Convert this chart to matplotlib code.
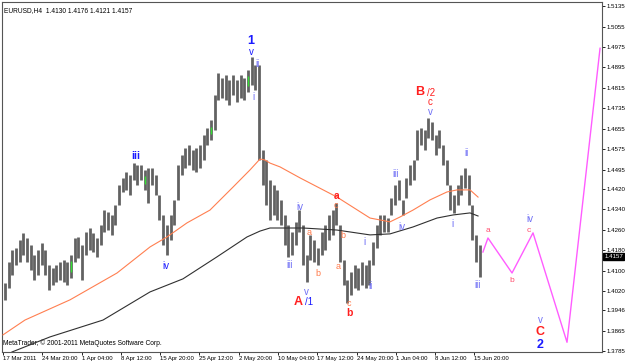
#!/usr/bin/env python3
"""
Redraw a MetaTrader EURUSD H4 chart with an Elliott wave count
"""

import matplotlib
matplotlib.use('Agg')
import matplotlib.pyplot as plt
import matplotlib.transforms as mtransforms
import numpy as np

# price range of the H4 bars in groups of 3 bars
highs = [1.4052, 1.4134, 1.4181, 1.4189, 1.4220, 1.4248, 1.4228, 1.4201, 1.4161, 1.4181,
         1.4208, 1.4181, 1.4122, 1.4111, 1.4122, 1.4134, 1.4142, 1.4134, 1.4161, 1.4228,
         1.4232, 1.4201, 1.4251, 1.4267, 1.4248, 1.4228, 1.4279, 1.4337, 1.4330, 1.4318,
         1.4357, 1.4435, 1.4463, 1.4486, 1.4474, 1.4521, 1.4513, 1.4513, 1.4494, 1.4502,
         1.4502, 1.4474, 1.4396, 1.4318, 1.4279, 1.4318, 1.4377, 1.4513, 1.4553, 1.4580,
         1.4592, 1.4572, 1.4580, 1.4592, 1.4631, 1.4658, 1.4689, 1.4787, 1.4873, 1.4854,
         1.4865, 1.4846, 1.4865, 1.4846, 1.4865, 1.4854, 1.4885, 1.4936, 1.4904, 1.4904,
         1.4572, 1.4533, 1.4455, 1.4435, 1.4416, 1.4377, 1.4318, 1.4279, 1.4251, 1.4291,
         1.4337, 1.4279, 1.4161, 1.4240, 1.4220, 1.4189, 1.4251, 1.4279, 1.4318, 1.4337,
         1.4365, 1.4279, 1.4142, 1.4064, 1.4095, 1.4122, 1.4111, 1.4134, 1.4122, 1.4142,
         1.4212, 1.4279, 1.4318, 1.4318, 1.4306, 1.4384, 1.4435, 1.4455, 1.4377, 1.4463,
         1.4513, 1.4533, 1.4650, 1.4658, 1.4650, 1.4697, 1.4682, 1.4631, 1.4650, 1.4592,
         1.4533, 1.4435, 1.4396, 1.4435, 1.4474, 1.4502, 1.4474, 1.4357, 1.4240, 1.4201]
lows = [1.3986, 1.4032, 1.4083, 1.4122, 1.4134, 1.4161, 1.4134, 1.4103, 1.4064, 1.4083,
        1.4122, 1.4083, 1.4025, 1.4044, 1.4056, 1.4064, 1.4056, 1.4044, 1.4071, 1.4134,
        1.4150, 1.4064, 1.4161, 1.4181, 1.4173, 1.4154, 1.4201, 1.4251, 1.4259, 1.4240,
        1.4279, 1.4357, 1.4408, 1.4416, 1.4396, 1.4455, 1.4435, 1.4455, 1.4416, 1.4365,
        1.4435, 1.4396, 1.4298, 1.4201, 1.4161, 1.4220, 1.4279, 1.4377, 1.4474, 1.4502,
        1.4513, 1.4494, 1.4486, 1.4502, 1.4533, 1.4592, 1.4611, 1.4650, 1.4768, 1.4775,
        1.4768, 1.4748, 1.4787, 1.4760, 1.4775, 1.4768, 1.4799, 1.4826, 1.4807, 1.4533,
        1.4435, 1.4357, 1.4298, 1.4318, 1.4298, 1.4279, 1.4201, 1.4154, 1.4161, 1.4201,
        1.4251, 1.4122, 1.4056, 1.4142, 1.4134, 1.4122, 1.4161, 1.4181, 1.4220, 1.4240,
        1.4279, 1.4134, 1.4044, 1.3975, 1.4005, 1.4032, 1.4025, 1.4044, 1.4032, 1.4044,
        1.4122, 1.4189, 1.4240, 1.4251, 1.4251, 1.4318, 1.4357, 1.4377, 1.4318, 1.4384,
        1.4435, 1.4455, 1.4533, 1.4592, 1.4572, 1.4619, 1.4611, 1.4553, 1.4580, 1.4513,
        1.4435, 1.4337, 1.4326, 1.4357, 1.4396, 1.4423, 1.4357, 1.4220, 1.4134, 1.4075]
green_groups = [18, 38, 56, 66]

# moving averages (bar index, price)
ma_fast_bar = [0, 17.9, 54.6, 92.9, 119.8, 133.6, 149.9, 168.6, 187.4, 201.2, 209.4, 213.4,
               217.5, 225.7, 242.0, 272.1, 299.0, 315.3, 323.4, 334.0, 347.9, 361.7, 369.9,
               380.5, 387.0]
ma_fast_val = [1.3849, 1.3907, 1.3986, 1.4091, 1.4193, 1.4232, 1.4287, 1.4337, 1.4427, 1.4494,
               1.4537, 1.4533, 1.4521, 1.4506, 1.4463, 1.4388, 1.4306, 1.4291, 1.4310, 1.4337,
               1.4377, 1.4408, 1.4416, 1.4416, 1.4388]
ma_slow_bar = [7.3, 38.3, 81.5, 119.8, 146.6, 174.3, 198.8, 209.4, 217.5, 244.4, 272.1, 299.0,
               315.3, 334.0, 353.6, 366.6, 380.5, 387.0]
ma_slow_val = [1.3782, 1.3841, 1.3907, 1.4017, 1.4068, 1.4154, 1.4232, 1.4255, 1.4267, 1.4267,
               1.4259, 1.4240, 1.4244, 1.4271, 1.4306, 1.4318, 1.4326, 1.4314]

# projected wave path
proj_bar = [391.0, 395.1, 414.7, 431.8, 459.5, 486.4]
proj_val = [1.4173, 1.4228, 1.4091, 1.4248, 1.3820, 1.4970]

price_ticks = ['1.5135', '1.5055', '1.4975', '1.4895', '1.4815', '1.4735', '1.4655', '1.4575',
               '1.4495', '1.4420', '1.4340', '1.4260', '1.4180', '1.4100', '1.4020', '1.3946',
               '1.3865', '1.3785']
date_ticks = ['17 Mar 2011', '24 Mar 20:00', '1 Apr 04:00', '8 Apr 12:00', '15 Apr 20:00',
              '25 Apr 12:00', '2 May 20:00', '10 May 04:00', '17 May 12:00', '24 May 20:00',
              '1 Jun 04:00', '8 Jun 12:00', '15 Jun 20:00']
last_price = 1.4157
header = 'EURUSD,H4  1.4130 1.4176 1.4121 1.4157'
footer = 'MetaTrader, \u00a9 2001-2011 MetaQuotes Software Corp.'

# wave labels
wave_text = ['1', 'v', 'ii', 'i', 'iii', 'iv', 'iv', 'iii', 'v', 'A', '/1', 'a', 'b', 'a', 'c',
             'b', 'a', 'c', 'b', 'i', 'ii', 'iii', 'iv', 'B', '/2', 'c', 'v', 'ii', 'i', 'iii',
             'a', 'b', 'c', 'iv', 'v', 'C', '2']
wave_bar = [202, 202, 207.7, 203.7, 108.4, 132.8, 242, 233.8, 246.8, 240.3, 249.3, 249.3, 256.6,
            272.1, 271.3, 277, 272.9, 281.9, 281.9, 294.1, 299, 320.2, 325, 339.7, 348.7, 347.9,
            347.9, 378, 365.8, 387, 395.1, 414.7, 428.5, 429.3, 437.5, 437.5, 437.5]
wave_price = [1.5000, 1.4955, 1.4908, 1.4779, 1.4549, 1.4118, 1.4349, 1.4122, 1.4017, 1.3978,
              1.3978, 1.4251, 1.4091, 1.4392, 1.4355, 1.4236, 1.4115, 1.3970, 1.3935, 1.4212,
              1.4040, 1.4478, 1.4271, 1.4799, 1.4795, 1.4760, 1.4721, 1.4560, 1.4283, 1.4044,
              1.4259, 1.4060, 1.4259, 1.4302, 1.3907, 1.3860, 1.3809]
wave_kind = ['big_blue', 'blue', 'lav', 'lav', 'blue_b', 'blue', 'lav', 'lav', 'lav', 'big_red',
             'blue', 'coral', 'coral', 'red_b', 'coral', 'coral', 'coral', 'coral', 'red_b', 'lav',
             'lav', 'lav', 'lav', 'big_red', 'red', 'red', 'lav', 'lav', 'lav', 'lav',
             'pink', 'pink', 'pink', 'lav', 'lav', 'big_red', 'big_blue']

styles = {
    'big_blue': ('#1a1aff', 9, 'bold'),
    'blue': ('#1a1aff', 7, 'normal'),
    'blue_b': ('#1a1aff', 7.5, 'bold'),
    'lav': ('#6f6ff5', 7, 'normal'),
    'big_red': ('#ff1f1f', 9, 'bold'),
    'red': ('#ff1f1f', 7, 'normal'),
    'red_b': ('#ff1f1f', 7.5, 'bold'),
    'coral': ('#ff7a4a', 6.5, 'normal'),
    'pink': ('#ff4f6f', 6, 'normal'),
}


def create_chart(output_png):
    """Draw the bar chart, moving averages, projection and wave labels"""
    plt.rcParams['font.family'] = ['Liberation Sans', 'DejaVu Sans']

    fig = plt.figure(figsize=(6.25, 3.63), dpi=100)
    ax = fig.add_axes([2 / 625, 11 / 363, 600 / 625, 350 / 363])

    # bars, 3 H4 bars per group
    centers = np.arange(len(highs)) * 3 + 1.5
    ax.vlines(centers, lows, highs, color='#626262', linewidth=2.0, zorder=2)
    g = np.array(green_groups)
    ax.vlines(centers[g], np.array(lows)[g] + 0.0025, np.array(highs)[g] - 0.0025,
              color='#33dd33', linewidth=1.0, zorder=3)

    # moving averages
    ax.plot(ma_fast_bar, ma_fast_val, color='#ff7f50', linewidth=0.8, zorder=4)
    ax.plot(ma_slow_bar, ma_slow_val, color='#303030', linewidth=0.8, zorder=4)

    # projected path
    ax.plot(proj_bar, proj_val, color='#ff5cff', linewidth=1.0, zorder=4)

    # wave labels
    for t, b, p, k in zip(wave_text, wave_bar, wave_price, wave_kind):
        color, size, weight = styles[k]
        ax.text(b, p, t, color=color, fontsize=size, fontweight=weight,
                ha='center', va='center', zorder=6)

    ax.set_xlim(-0.8, 488)
    ax.set_ylim(1.3782, 1.5151)

    # right price scale
    ax.yaxis.tick_right()
    ax.set_yticks([float(t) for t in price_ticks])
    ax.set_yticklabels(price_ticks)
    ax.tick_params(axis='y', length=2, width=0.6, pad=1.2, labelsize=4.4, colors='black')

    # date scale
    ax.set_xticks(np.arange(len(date_ticks)) * 32)
    ax.set_xticklabels(date_ticks)
    for lbl in ax.get_xticklabels():
        lbl.set_horizontalalignment('left')
    ax.tick_params(axis='x', length=2, width=0.6, pad=1.2, labelsize=4.3, colors='black')

    for side in ['left', 'bottom', 'right', 'top']:
        ax.spines[side].set_color('#555555')
        ax.spines[side].set_linewidth(0.8)

    # current price marker
    trans = mtransforms.blended_transform_factory(ax.transAxes, ax.transData)
    ax.text(1.004, last_price, f'{last_price:.4f}', transform=trans, color='white',
            fontsize=4.4, ha='left', va='center', zorder=7, clip_on=False,
            bbox=dict(boxstyle='square,pad=0.15', facecolor='black', edgecolor='black'))

    ax.text(0.004, 0.985, header, transform=ax.transAxes, fontsize=4.8, ha='left', va='top')
    ax.text(0.002, 0.015, footer, transform=ax.transAxes, fontsize=4.8, ha='left', va='bottom')

    fig.savefig(output_png, dpi=100)
    print(f"Saved chart to {output_png}")
    plt.close(fig)


if __name__ == "__main__":
    create_chart('out.png')
